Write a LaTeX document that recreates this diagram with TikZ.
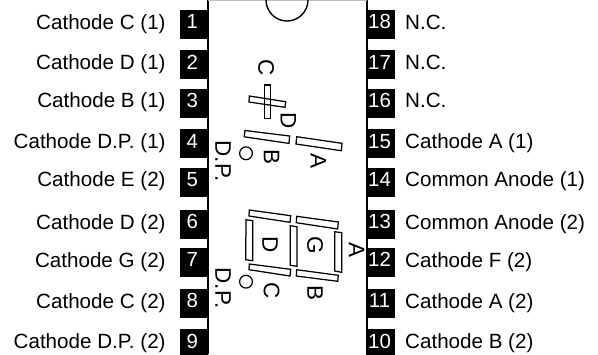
\documentclass[tikz,border=0pt]{standalone}
\usepackage{fontspec}
\setmainfont{Liberation Sans}
\tikzset{
  x=1bp,y=-1bp,
  pinbox/.style={fill=black,draw=none,minimum width=#1,minimum height=29bp,inner sep=0pt,outer sep=0pt},
  pinnum/.style={text=white,anchor=base,inner sep=0pt,font=\fontsize{20.4bp}{24bp}\selectfont},
  pinlabL/.style={anchor=base east,inner sep=0pt,font=\fontsize{20.6bp}{24bp}\selectfont},
  pinlabR/.style={anchor=base west,inner sep=0pt,font=\fontsize{20.6bp}{24bp}\selectfont},
  seg/.style={draw=black,line width=1.25bp,fill=white,line join=miter},
  wall/.style={draw=black,line width=2.3bp},
  mark letter/.style={rotate=-90,inner sep=0pt,font=\fontsize{22.5bp}{26bp}\selectfont},
  dpdot/.style={draw=black,line width=1.2bp,circle,minimum size=12.8bp,inner sep=0pt},
}
\begin{document}
\begin{tikzpicture}
\useasboundingbox (0,0) rectangle (598,354);
\clip (0,0) rectangle (598,354);
\fill[white] (0,0) rectangle (598,354);
% package outline
\coordinate (wallLt) at (208,0);
\coordinate (wallLb) at (208,354);
\coordinate (wallRt) at (366.7,0);
\coordinate (wallRb) at (366.7,354);
\draw[wall] (wallLt) -- (wallLb);
\draw[wall] (wallRt) -- (wallRb);
\draw[black!25,line width=1bp] (wallLt) -- (wallRt);
\node[draw=black,line width=1.4bp,circle,minimum size=42bp,inner sep=0pt] (notch) at (287,0) {};
% left pins
\foreach \n/\t/\lab in {1/10/Cathode C (1),2/50.4/Cathode D (1),3/88.7/Cathode B (1),4/129.3/Cathode D.P. (1),5/167.7/Cathode E (2),6/210/Cathode D (2),7/248/Cathode G (2),8/289/Cathode C (2),9/329.3/Cathode D.P. (2)}{
  \node[pinbox=28bp] (pin\n) at (194,\t+14.5) {};
  \node[pinnum] (num\n) at (192.3,\t+18.8) {\n};
  \node[pinlabL] (lab\n) at (165.8,\t+19.2) {\lab};
}
% right pins
\foreach \n/\t/\lab in {18/10/N.C.,17/50.4/N.C.,16/88.7/N.C.,15/129.3/Cathode A (1),14/167.7/Common Anode (1),13/210/Common Anode (2),12/248/Cathode F (2),11/289/Cathode A (2),10/329.3/Cathode B (2)}{
  \node[pinbox=29bp] (pin\n) at (380.5,\t+14.5) {};
  \node[pinnum] (num\n) at (379.5,\t+18.8) {\n};
  \node[pinlabR] (lab\n) at (405,\t+19.2) {\lab};
}
% upper display: cross and bars
\draw[seg,fill=none] (249.3,96) -- (285.7,101.7) -- (285,107.3) -- (249,102) -- cycle;
\draw[seg,fill=none] (264.5,85) rectangle (270.3,118.3);
\draw[seg] (245,130.5) -- (289.6,136) -- (289,143.4) -- (244.2,136.8) -- cycle;
\draw[seg] (296.7,136.7) -- (342,143.3) -- (341.3,150.7) -- (296,144) -- cycle;
\node[dpdot] (dpa) at (246,153.3) {};
% lower display: seven segments
\draw[seg] (249.3,210) -- (290.7,215.7) -- (290,222.3) -- (249,216) -- cycle;
\draw[seg] (296.7,216.3) -- (338.3,222) -- (337.7,229) -- (296.3,222.7) -- cycle;
\draw[seg] (246,219.7) -- (252.7,220.7) -- (252.7,260.7) -- (245.7,259.7) -- cycle;
\draw[seg] (290.3,225.7) -- (297,226.7) -- (297,266.3) -- (290.3,265.3) -- cycle;
\draw[seg] (334.7,231.7) -- (341.7,232.7) -- (341.7,272.3) -- (334.7,271) -- cycle;
\draw[seg] (249.3,264) -- (290.7,269.3) -- (290,276) -- (249,269.7) -- cycle;
\draw[seg] (296.7,269.7) -- (338.3,275.3) -- (337.7,281.3) -- (296.3,276) -- cycle;
\node[dpdot] (dpb) at (246,281.7) {};
% rotated letters
\node[mark letter] (tc) at (266,68) {C};
\node[mark letter] (td) at (288.3,120.7) {D};
\node[mark letter] (tb) at (271.7,156.7) {B};
\node[mark letter] (ta) at (318.3,161) {A};
\node[mark letter] (tdp) at (223,161) {D.P.};
\node[mark letter] (ud) at (270,245) {D};
\node[mark letter] (ug) at (315,245) {G};
\node[mark letter] (ua) at (356.7,250) {A};
\node[mark letter] (uc) at (271.7,291) {C};
\node[mark letter] (ub) at (315,293.3) {B};
\node[mark letter] (udp) at (223,288) {D.P.};
\end{tikzpicture}
\end{document}
